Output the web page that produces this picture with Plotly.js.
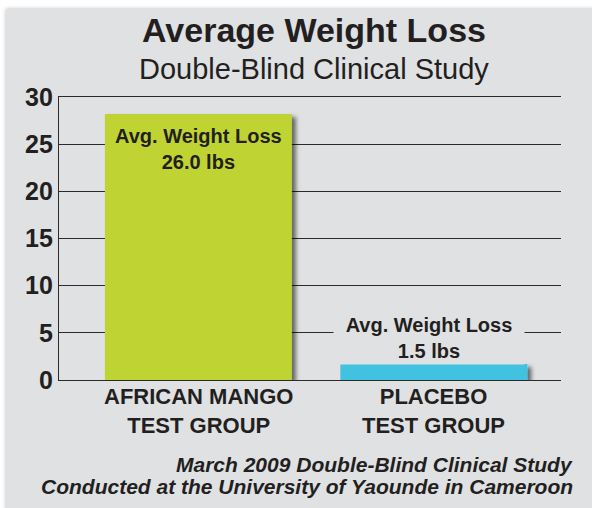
<!DOCTYPE html>
<html>
<head>
<meta charset="utf-8">
<script src="https://cdn.plot.ly/plotly-3.0.1.min.js"></script>
<style>
  html, body { margin: 0; padding: 0; background: #ffffff; }
  #panel { position: absolute; left: 6px; top: 9px; width: 600px; height: 520px;
           background: #e0e1e3; box-shadow: 0 0 4px rgba(0,0,0,0.28); }
  #chart { position: absolute; left: 0; top: 0; width: 592px; height: 508px; }
</style>
</head>
<body>
<div id="panel"></div>
<div id="chart"></div>
<script>
// ---- data ----
const categoryLines = [['AFRICAN MANGO', 'TEST GROUP'], ['PLACEBO', 'TEST GROUP']];
const categories = categoryLines.map(l => l.join(' '));
const barValues = [28.2, 1.7];
const labelTitles = ['Avg. Weight Loss', 'Avg. Weight Loss'];
const labelValues = ['26.0 lbs', '1.5 lbs'];
const barColors = ['#bfd431', '#43c2e1'];
const yTickVals = [0, 5, 10, 15, 20, 25, 30];
const yTickText = ['0', '5', '10', '15', '20', '25', '30'];
const titleText = 'Average Weight Loss';
const subtitleText = 'Double-Blind Clinical Study';
const footLines = ['March 2009 Double-Blind Clinical Study',
                   'Conducted at the University of Yaounde in Cameroon'];

const INK = '#231f20';
const FONT = 'Liberation Sans, Arial, Helvetica, sans-serif';
const PANEL = '#e0e1e3';

const trace = {
  type: 'bar',
  x: categories,
  y: barValues,
  width: 0.794,
  marker: { color: barColors, line: { width: 0 } },
  hoverinfo: 'skip'
};

const annotations = [];
categories.forEach((c, i) => {
  const inside = barValues[i] > 10;
  annotations.push({
    x: c, y: barValues[i], xref: 'x', yref: 'y',
    text: labelTitles[i] + '<br>' + labelValues[i],
    showarrow: false,
    xanchor: 'center',
    yanchor: inside ? 'top' : 'bottom',
    yshift: inside ? -8 : -1,
    xshift: inside ? 0 : -5,
    font: { family: FONT, size: 20, color: INK, weight: 'bold' },
    bgcolor: inside ? 'rgba(0,0,0,0)' : PANEL,
    width: inside ? null : 186,
    borderpad: 2
  });
  // category label below the axis
  annotations.push({
    x: c, xref: 'x', yref: 'paper',
    y: -0.109, yanchor: 'middle', xanchor: 'center',
    showarrow: false, text: categoryLines[i].join('<br>'),
    font: { family: FONT, size: 22, color: INK, weight: 'bold' }
  });
});
// subtitle
annotations.push({
  xref: 'paper', yref: 'paper', x: 0.508, y: 1.099,
  xanchor: 'center', yanchor: 'middle', showarrow: false,
  text: subtitleText,
  font: { family: FONT, size: 29, color: INK }
});
// footnote
footLines.forEach((line, k) => {
  annotations.push({
    xref: 'paper', yref: 'paper', x: 1.028, y: [-0.297, -0.375][k],
    xanchor: 'right', yanchor: 'middle', align: 'right',
    showarrow: false, text: line,
    font: { family: FONT, size: 21, color: INK, weight: 'bold', style: 'italic' }
  });
});

const layout = {
  width: 592, height: 508,
  margin: { l: 59, r: 31, t: 97, b: 128 },
  paper_bgcolor: 'rgba(0,0,0,0)',
  plot_bgcolor: 'rgba(0,0,0,0)',
  showlegend: false,
  title: {
    text: titleText,
    x: 0.508, xref: 'paper', xanchor: 'center',
    y: 0.9646, yref: 'container', yanchor: 'top',
    font: { family: FONT, size: 34, color: INK, weight: 'bold' }
  },
  xaxis: {
    type: 'category',
    range: [-0.592, 1.54],
    showgrid: false,
    zeroline: false,
    showline: true, mirror: true,
    linecolor: '#2b2b2b', linewidth: 1.2,
    ticks: '',
    showticklabels: false,
    fixedrange: true
  },
  yaxis: {
    range: [0, 30],
    tickmode: 'array', tickvals: yTickVals, ticktext: yTickText,
    showgrid: true, gridcolor: '#2b2b2b', gridwidth: 1.2,
    zeroline: false,
    showline: true, linecolor: '#2b2b2b', linewidth: 1.2,
    ticks: '',
    ticklabelstandoff: 0,
    tickfont: { family: FONT, size: 25, color: INK, weight: 'bold' },
    fixedrange: true
  },
  annotations: annotations
};

Plotly.newPlot('chart', [trace], layout, { displayModeBar: false, staticPlot: true }).then(gd => {
  const svg = gd.querySelector('.main-svg');
  const NS = 'http://www.w3.org/2000/svg';
  let defs = svg.querySelector('defs');
  if (!defs) { defs = document.createElementNS(NS, 'defs'); svg.insertBefore(defs, svg.firstChild); }
  const f = document.createElementNS(NS, 'filter');
  f.setAttribute('id', 'barshadow');
  f.setAttribute('x', '-10%'); f.setAttribute('y', '-10%');
  f.setAttribute('width', '130%'); f.setAttribute('height', '130%');
  const ds = document.createElementNS(NS, 'feDropShadow');
  ds.setAttribute('dx', '4'); ds.setAttribute('dy', '3');
  ds.setAttribute('stdDeviation', '2');
  ds.setAttribute('flood-color', '#000'); ds.setAttribute('flood-opacity', '0.55');
  f.appendChild(ds); defs.appendChild(f);
  gd.querySelectorAll('.barlayer .point path').forEach(p => p.setAttribute('filter', 'url(#barshadow)'));
});
</script>
</body>
</html>
